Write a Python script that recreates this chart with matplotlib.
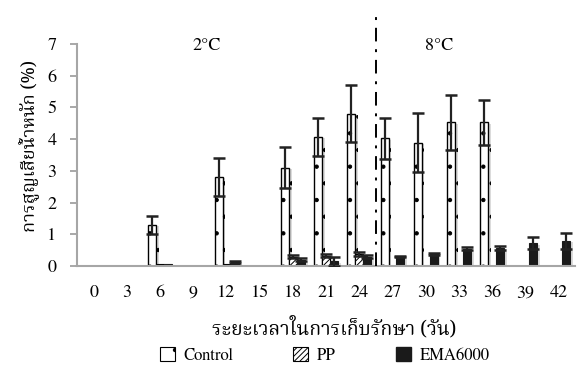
import matplotlib
matplotlib.use("Agg")
import numpy as np
import matplotlib.pyplot as plt
import matplotlib.patheffects as pe
from matplotlib.patches import Patch

plt.rcParams['font.family'] = ['FreeSerif', 'Noto Serif Thai', 'DejaVu Serif']
plt.rcParams['hatch.linewidth'] = 0.7

# storage days
days = ['0', '3', '6', '9', '12', '15', '18', '21', '24', '27', '30', '33', '36', '39', '42']

# weight loss (%) and error
control = [0, 0, 1.30, 0, 2.82, 0, 3.10, 4.08, 4.80, 4.03, 3.89, 4.53, 4.53, 0, 0]
control_err = [0, 0, 0.28, 0, 0.60, 0, 0.65, 0.60, 0.90, 0.65, 0.93, 0.86, 0.70, 0, 0]
pp = [0, 0, 0.05, 0, 0.07, 0, 0.30, 0.32, 0.38, 0, 0, 0, 0, 0, 0]
pp_err = [0, 0, 0, 0, 0, 0, 0.05, 0.05, 0.05, 0, 0, 0, 0, 0, 0]
ema = [0, 0, 0.07, 0, 0.12, 0, 0.20, 0.15, 0.30, 0.30, 0.38, 0.55, 0.58, 0.72, 0.80]
ema_err = [0, 0, 0, 0, 0.03, 0, 0.05, 0.15, 0.04, 0.03, 0.03, 0.05, 0.06, 0.18, 0.25]

x = np.arange(len(days))
w = 0.24
shadow = [pe.SimplePatchShadow(offset=(2, -1), shadow_rgbFace='#999999', alpha=0.35), pe.Normal()]
thai = ['Noto Serif Thai', 'FreeSerif']

fig = plt.figure(figsize=(5.85, 3.7), dpi=100)
ax = fig.add_axes([0.132, 0.281, 0.851, 0.6])

series = [
    (control, control_err, -w, dict(color='white', edgecolor='black', hatch='.', linewidth=1.0)),
    (pp, pp_err, 0, dict(color='white', edgecolor='black', hatch='//////', linewidth=0.8)),
    (ema, ema_err, w, dict(color='#1a1a1a', edgecolor='#1a1a1a', linewidth=0.8)),
]
for vals, errs, off, style in series:
    v = np.array(vals)
    e = np.array(errs)
    bars = ax.bar(x + off, v, w, zorder=2, **style)
    for b in bars:
        b.set_path_effects(shadow)
    m = e > 0
    ax.errorbar(x[m] + off, v[m], yerr=e[m], fmt='none', ecolor='#222222',
                elinewidth=1.6, capsize=4.5, capthick=1.8, zorder=3)

# separator between the two temperatures
ax.plot([8.5, 8.5], [0, 7.95], color='black', linewidth=1.4,
        linestyle=(0, (7, 4, 1.5, 4)), clip_on=False, zorder=4)
ax.text(3.4, 6.95, '2°C', fontsize=13, ha='center', va='center')
ax.text(10.4, 6.95, '8°C', fontsize=13, ha='center', va='center')

ax.set_xlim(-0.5, 14.5)
ax.set_ylim(0, 7)
ax.set_xticks(x)
ax.set_xticklabels(days)
ax.set_yticks(range(8))
ax.tick_params(axis='x', length=0, pad=14, labelsize=13)
ax.tick_params(axis='y', length=5, width=1.2, color='#999999', pad=10, labelsize=13)
for s in ['top', 'right']:
    ax.spines[s].set_visible(False)
for s in ['left', 'bottom']:
    ax.spines[s].set_color('#a6a6a6')
    ax.spines[s].set_linewidth(1.5)

fig.text(0.572, 0.113, 'ระยะเวลาในการเก็บรักษา (วัน)', fontsize=14, family=thai,
         ha='center', va='center')
fig.text(0.05, 0.605, 'การสูญเสียน้ำหนัก (%)', fontsize=13, family=thai,
         ha='center', va='center', rotation=90)

handles = [
    Patch(facecolor='white', edgecolor='black', hatch='.', linewidth=0.8),
    Patch(facecolor='white', edgecolor='black', hatch='//////', linewidth=0.8),
    Patch(facecolor='#1a1a1a', edgecolor='#1a1a1a'),
]
fig.legend(handles, ['Control', 'PP', 'EMA6000'], loc='center', bbox_to_anchor=(0.555, 0.04),
           ncol=3, frameon=False, fontsize=12, handlelength=0.9, handleheight=0.9,
           handletextpad=0.5, columnspacing=3.6)

fig.savefig('out.png', dpi=100)
